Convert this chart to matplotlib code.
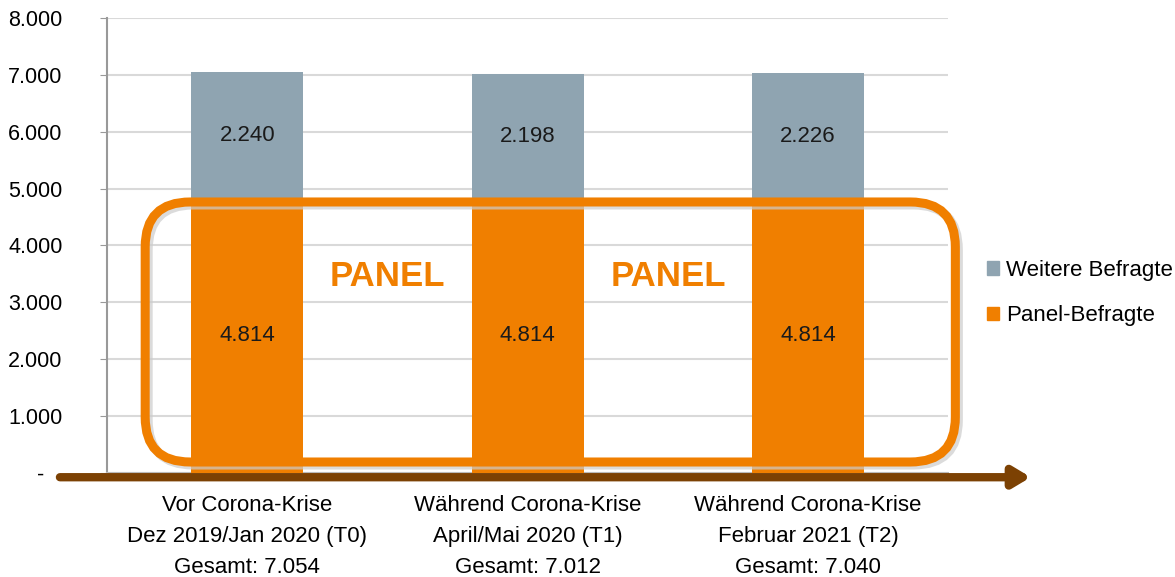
import matplotlib.pyplot as plt
from matplotlib.patches import FancyBboxPatch, Patch
from matplotlib.transforms import IdentityTransform

# Daten
kategorien = ["Vor Corona-Krise\nDez 2019/Jan 2020 (T0)\nGesamt: 7.054",
              "Während Corona-Krise\nApril/Mai 2020 (T1)\nGesamt: 7.012",
              "Während Corona-Krise\nFebruar 2021 (T2)\nGesamt: 7.040"]
panel_befragte = [4814, 4814, 4814]
weitere_befragte = [2240, 2198, 2226]
y_ticks = [0, 1000, 2000, 3000, 4000, 5000, 6000, 7000, 8000]
y_labels = ["-   ", "1.000", "2.000", "3.000", "4.000", "5.000", "6.000", "7.000", "8.000"]

ORANGE = "#f07f00"
GRAU = "#8fa4b1"
BRAUN = "#7c4103"

plt.rcParams['font.family'] = ['Liberation Sans', 'DejaVu Sans']


def de_format(v):
    return f"{v:,}".replace(",", ".")


fig = plt.figure(figsize=(11.75, 5.77), dpi=100)
ax = fig.add_axes([0.0911, 0.1808, 0.7160, 0.7875])

x = list(range(len(kategorien)))
b1 = ax.bar(x, panel_befragte, width=0.4, color=ORANGE, zorder=3, label="Panel-Befragte")
b2 = ax.bar(x, weitere_befragte, width=0.4, bottom=panel_befragte, color=GRAU, zorder=3,
            label="Weitere Befragte")
ax.bar_label(b1, labels=[de_format(v) for v in panel_befragte], label_type="center",
             fontsize=16, color="#1a1a1a")
ax.bar_label(b2, labels=[de_format(v) for v in weitere_befragte], label_type="center",
             fontsize=16, color="#1a1a1a")

ax.set_xlim(-0.5, 2.5)
ax.set_ylim(0, 8000)
ax.set_yticks(y_ticks)
ax.set_yticklabels(y_labels, fontsize=15.5)
ax.set_xticks(x)
ax.set_xticklabels(kategorien, fontsize=16, linespacing=1.62)
ax.set_xticks([-0.5, 0.5, 1.5, 2.5], minor=True)
ax.tick_params(axis="x", which="major", length=0, pad=16)
ax.tick_params(axis="x", which="minor", length=5, color="#999999")
ax.tick_params(axis="y", length=5, color="#999999", pad=27)

ax.grid(axis="y", color="#d9d9d9", lw=1.5, zorder=0)
for s in ["top", "right"]:
    ax.spines[s].set_visible(False)
ax.spines["left"].set_color("#999999")
ax.spines["left"].set_linewidth(1.5)
ax.spines["bottom"].set_color("#bbbbbb")
ax.spines["bottom"].set_linewidth(1.5)

# Zeitachsen-Pfeil
ax.annotate("", xy=(1.098, -0.010), xytext=(-0.056, -0.010), xycoords="axes fraction",
            textcoords="axes fraction",
            arrowprops=dict(arrowstyle="-|>,head_length=1.0,head_width=0.6", lw=6,
                            color=BRAUN, shrinkA=0, shrinkB=0),
            annotation_clip=False, zorder=5)

# Panel-Rahmen (abgerundet, in Pixeln)
fig.canvas.draw()
(x0, y0) = ax.transData.transform((-0.364, 188))
(x1, y1) = ax.transData.transform((2.525, 4766))
schatten = FancyBboxPatch((x0 + 3, y0 - 3), x1 - x0, y1 - y0,
                          boxstyle="round,pad=0,rounding_size=45", fill=False,
                          ec="#cccccc", lw=6.5, transform=IdentityTransform(), zorder=1.5,
                          alpha=0.7)
rahmen = FancyBboxPatch((x0, y0), x1 - x0, y1 - y0,
                        boxstyle="round,pad=0,rounding_size=45", fill=False,
                        ec=ORANGE, lw=6.5, transform=IdentityTransform(), zorder=2)
fig.patches.append(schatten)
fig.patches.append(rahmen)
schatten.set_figure(fig)
rahmen.set_figure(fig)

for px in [0.5, 1.5]:
    ax.text(px, 3450, "PANEL", ha="center", va="center", fontsize=25, fontweight="bold",
            color=ORANGE, zorder=4)

handles = [Patch(color=GRAU, label="Weitere Befragte"), Patch(color=ORANGE, label="Panel-Befragte")]
ax.legend(handles=handles, loc="center left", bbox_to_anchor=(1.022, 0.395), frameon=False,
          fontsize=16, handlelength=0.55, handleheight=0.55, handletextpad=0.3, labelspacing=1.1)

fig.savefig("out.png", dpi=100)
